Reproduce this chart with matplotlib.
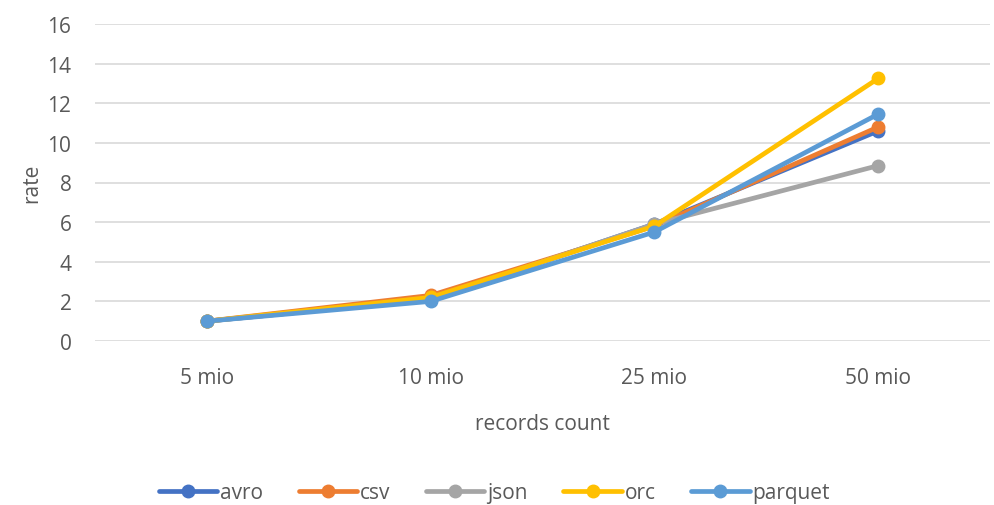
import matplotlib
matplotlib.use("Agg")
import matplotlib.pyplot as plt

categories = ["5 mio", "10 mio", "25 mio", "50 mio"]
series_names = ["avro", "csv", "json", "orc", "parquet"]
avro = [1.0, 2.1, 5.9, 10.6]
csv = [1.0, 2.3, 5.8, 10.8]
json = [1.0, 2.1, 5.9, 8.85]
orc = [1.0, 2.2, 5.8, 13.25]
parquet = [1.0, 2.0, 5.5, 11.45]
y_ticks = [0, 2, 4, 6, 8, 10, 12, 14, 16]

colors = ["#4472C4", "#ED7D31", "#A5A5A5", "#FFC000", "#5B9BD5"]
values = [avro, csv, json, orc, parquet]

plt.rcParams["font.family"] = ["Open Sans", "DejaVu Sans"]
text_color = "#595959"
fs = 15

fig = plt.figure(figsize=(9.95, 5.06), dpi=100)
ax = fig.add_axes([95 / 995, 1 - 342 / 506, 895 / 995, 317 / 506])

x = list(range(len(categories)))
for name, vals, c in zip(series_names, values, colors):
    ax.plot(x, vals, color=c, lw=3.4, marker="o", markersize=9,
            solid_capstyle="round", label=name, zorder=3)

ax.set_xlim(-0.5, len(categories) - 0.5)
ax.set_ylim(0, 16)
ax.set_yticks(y_ticks)
ax.set_xticks(x)
ax.set_xticklabels(categories)
ax.grid(axis="y", color="#D9D9D9", lw=1.2)
ax.set_axisbelow(True)
for s in ax.spines.values():
    s.set_visible(False)
ax.tick_params(length=0, colors=text_color, labelsize=fs)
ax.tick_params(axis="y", pad=17)
ax.tick_params(axis="x", pad=19)

ax.set_xlabel("records count", color=text_color, fontsize=fs, labelpad=18)
ax.set_ylabel("rate", color=text_color, fontsize=fs, labelpad=4)

leg = fig.legend(loc="center", bbox_to_anchor=(0.497, 1 - 494 / 506), ncol=5,
                 frameon=False, fontsize=fs, handlelength=2.8,
                 columnspacing=1.7, handletextpad=0.15)
for t in leg.get_texts():
    t.set_color(text_color)

fig.savefig("out.png", dpi=100)
